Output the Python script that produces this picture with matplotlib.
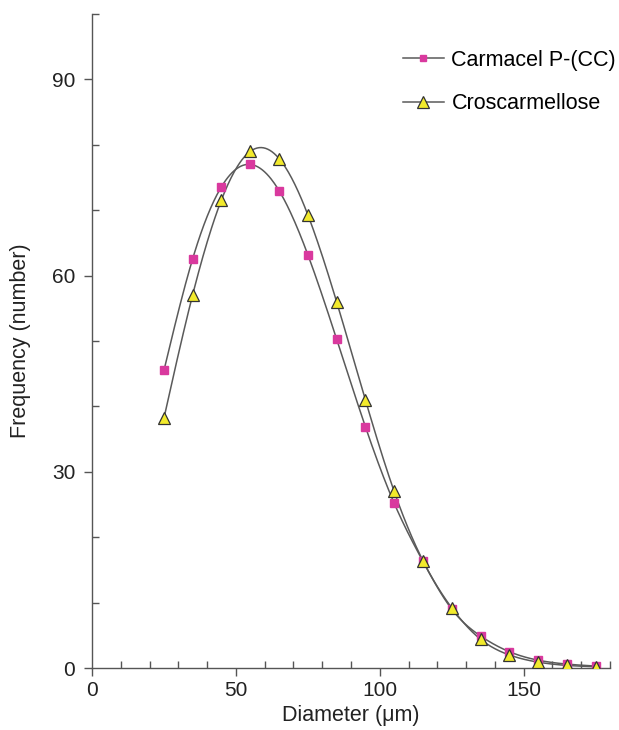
import numpy as np
import matplotlib
matplotlib.use("Agg")
import matplotlib.pyplot as plt
from matplotlib.ticker import MultipleLocator

diameter = [25, 35, 45, 55, 65, 75, 85, 95, 105, 115, 125, 135, 145, 155, 165, 175]
carmacel = [45.5, 62.6, 73.6, 77.0, 73.0, 63.2, 50.3, 36.9, 25.2, 16.3, 9.0, 4.9, 2.5, 1.2, 0.6, 0.3]
croscarmellose = [38.2, 57.1, 71.6, 79.0, 77.9, 69.3, 56.0, 41.0, 27.0, 16.4, 9.2, 4.4, 2.0, 0.9, 0.4, 0.2]
labels = ["Carmacel P-(CC)", "Croscarmellose"]


def natural_spline(x, y, n=400):
    x = np.asarray(x, float)
    y = np.asarray(y, float)
    m = len(x)
    h = np.diff(x)
    A = np.zeros((m, m))
    b = np.zeros(m)
    A[0, 0] = A[-1, -1] = 1
    for i in range(1, m - 1):
        A[i, i - 1] = h[i - 1]
        A[i, i] = 2 * (h[i - 1] + h[i])
        A[i, i + 1] = h[i]
        b[i] = 6 * ((y[i + 1] - y[i]) / h[i] - (y[i] - y[i - 1]) / h[i - 1])
    M = np.linalg.solve(A, b)
    xs = np.linspace(x[0], x[-1], n)
    idx = np.clip(np.searchsorted(x, xs) - 1, 0, m - 2)
    x0, x1 = x[idx], x[idx + 1]
    hh = x1 - x0
    t0 = x1 - xs
    t1 = xs - x0
    ys = (M[idx] * t0 ** 3 + M[idx + 1] * t1 ** 3) / (6 * hh) \
        + (y[idx] / hh - M[idx] * hh / 6) * t0 \
        + (y[idx + 1] / hh - M[idx + 1] * hh / 6) * t1
    return xs, ys


plt.rcParams['font.family'] = ['Liberation Sans', 'DejaVu Sans']
FS = 15.5

fig = plt.figure(figsize=(6.19, 7.30), dpi=100)
ax = fig.add_axes([0.1486, 0.0849, 0.9855 - 0.1486, 0.9808 - 0.0849])

line_col = "#5a5a5a"
sq_col = "#d9399e"
tri_col = "#f2ea2c"

xs, ys = natural_spline(diameter, carmacel)
ax.plot(xs, ys, color=line_col, lw=1.1, zorder=2)
xs2, ys2 = natural_spline(diameter, croscarmellose)
ax.plot(xs2, ys2, color=line_col, lw=1.1, zorder=2)

ax.plot(diameter, carmacel, linestyle='none', marker='s', ms=6,
        mfc=sq_col, mec=sq_col, zorder=3)
ax.plot(diameter, croscarmellose, linestyle='none', marker='^', ms=9,
        mfc=tri_col, mec="#333333", mew=0.9, zorder=4)

# legend handles
h1, = ax.plot([], [], color=line_col, lw=1.1, marker='s', ms=5, mfc=sq_col, mec=sq_col)
h2, = ax.plot([], [], color=line_col, lw=1.1, marker='^', ms=8, mfc=tri_col, mec="#333333", mew=0.9)
leg = ax.legend([h1, h2], labels, loc='upper right', bbox_to_anchor=(1.049, 0.975),
                frameon=False, fontsize=FS, labelspacing=1.05, handlelength=1.9,
                handletextpad=0.35)

ax.set_xlim(0, 180)
ax.set_ylim(0, 100)
ax.xaxis.set_major_locator(MultipleLocator(50))
ax.xaxis.set_minor_locator(MultipleLocator(10))
ax.yaxis.set_major_locator(MultipleLocator(30))
ax.yaxis.set_minor_locator(MultipleLocator(10))

for s in ['top', 'right']:
    ax.spines[s].set_visible(False)
for s in ['left', 'bottom']:
    ax.spines[s].set_color("#555555")
    ax.spines[s].set_linewidth(1.0)

ax.tick_params(axis='both', which='major', direction='out', length=6, width=1,
               color="#555555", labelsize=15, labelcolor="#222222")
ax.tick_params(axis='x', which='major', pad=3)
ax.tick_params(axis='y', which='major', pad=6)
ax.tick_params(axis='both', which='minor', direction='in', length=5, width=1,
               color="#555555")

ax.set_xlabel("Diameter (\u03bcm)", fontsize=FS, color="#222222", labelpad=4)
ax.set_ylabel("Frequency (number)", fontsize=FS, color="#222222", labelpad=15)

fig.savefig("out.png", dpi=100)
